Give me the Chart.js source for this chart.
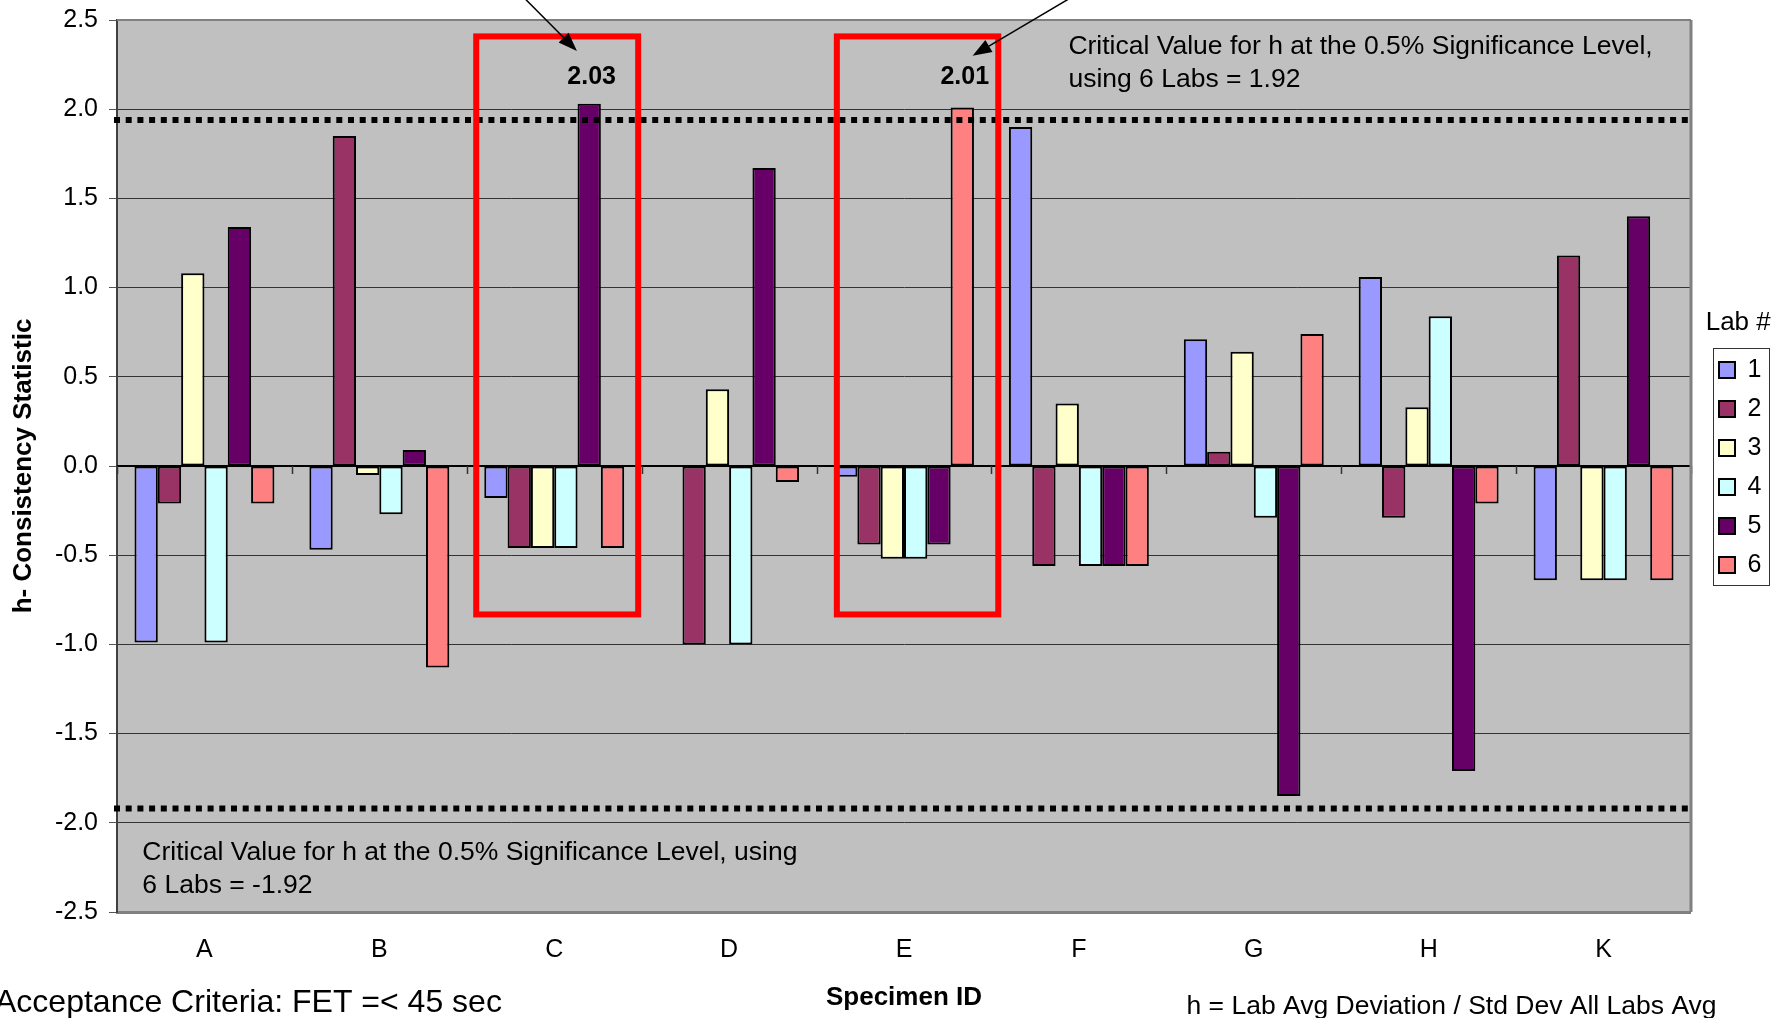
<!DOCTYPE html>
<html>
<head>
<meta charset="utf-8">
<title>h- Consistency Statistic</title>
<script src="https://cdn.jsdelivr.net/npm/chart.js@4.4.1/dist/chart.umd.min.js"></script>
<style>
  html, body { margin: 0; padding: 0; background: #fff; }
  #wrap { width: 1778px; height: 1018px; }
</style>
</head>
<body>
<div id="wrap"><canvas id="myChart" width="1778" height="1018"></canvas></div>
<script>
const specimens = ["A", "B", "C", "D", "E", "F", "G", "H", "K"];
const labNames = ["1", "2", "3", "4", "5", "6"];

const lab1 = [-0.99, -0.47, -0.18, 0, -0.06, 1.90, 0.71, 1.06, -0.64];
const lab2 = [-0.21, 1.85, -0.46, -1.00, -0.44, -0.56, 0.08, -0.29, 1.18];
const lab3 = [1.08, -0.05, -0.46, 0.43, -0.52, 0.35, 0.64, 0.33, -0.64];
const lab4 = [-0.99, -0.27, -0.46, -1.00, -0.52, -0.56, -0.29, 0.84, -0.64];
const lab5 = [1.34, 0.09, 2.03, 1.67, -0.44, -0.56, -1.85, -1.71, 1.40];
const lab6 = [-0.21, -1.13, -0.46, -0.09, 2.01, -0.56, 0.74, -0.21, -0.64];

const yTickValues = [2.5, 2.0, 1.5, 1.0, 0.5, 0.0, -0.5, -1.0, -1.5, -2.0, -2.5];

// critical h value (text) and where the dotted lines sit on the picture
const critLevel = 1.92;
const critLines = [1.94, -1.92];

const labColors = ["#9999FF", "#993366", "#FFFFCC", "#CCFFFF", "#660066", "#FF8080"];
const fontFam = '"Liberation Sans", Arial, sans-serif';

// annotation shapes, in category index / h units
const labelLevel = 2.18;
const redBoxes = [
    { x0: 1.554, x1: 2.48, y0: 2.408, y1: -0.832 },
    { x0: 3.616, x1: 4.539, y0: 2.408, y1: -0.832 },
];
const arrows = [
    { x0: 1.812, y0: 2.64, x1: 2.130, y1: 2.326 },
    { x0: 4.980, y0: 2.64, x1: 4.392, y1: 2.300 },
];
const notes = [
    { x: 4.94, y: 2.308, lines: ["Critical Value for h at the 0.5% Significance Level,", "using 6 Labs = " + critLevel.toFixed(2)] },
    { x: -0.355, y: -2.21, lines: ["Critical Value for h at the 0.5% Significance Level, using", "6 Labs = -" + critLevel.toFixed(2)] },
];

Chart.defaults.font.family = fontFam;
Chart.defaults.color = "#000";

const labSeries = [lab1, lab2, lab3, lab4, lab5, lab6];

const plotDecor = {
    id: "plotDecor",
    beforeDraw(chart) {
        const { ctx, chartArea: a } = chart;
        ctx.save();
        ctx.fillStyle = "#C0C0C0";
        ctx.fillRect(a.left, a.top, a.right - a.left, a.bottom - a.top);
        ctx.restore();
    },
    afterLayout(chart) {
        // nudge legend a bit away from the plot
        chart.legend.left += 14;
        chart.legend.right += 14;
    },
    afterDatasetsDraw(chart) {
        const { ctx, chartArea: a, scales } = chart;
        const xs = scales.x, ys = scales.y;
        ctx.save();

        // category axis at h = 0
        const y0 = ys.getPixelForValue(0);
        ctx.strokeStyle = "#000";
        ctx.lineWidth = 2;
        ctx.beginPath();
        ctx.moveTo(a.left, y0);
        ctx.lineTo(a.right, y0);
        ctx.stroke();
        ctx.strokeStyle = "#333";
        ctx.lineWidth = 1.5;
        for (let i = 0; i <= specimens.length; i++) {
            const x = Math.round(xs.getPixelForValue(i - 0.5)) + 0.5;
            ctx.beginPath();
            ctx.moveTo(x, y0);
            ctx.lineTo(x, y0 + 8);
            ctx.stroke();
        }

        // dotted critical lines
        ctx.strokeStyle = "#000";
        ctx.lineWidth = 6;
        ctx.setLineDash([6, 5.7]);
        critLines.forEach(v => {
            const y = ys.getPixelForValue(v);
            ctx.beginPath();
            ctx.moveTo(a.left - 3, y);
            ctx.lineTo(a.right + 1, y);
            ctx.stroke();
        });
        ctx.setLineDash([]);

        // plot frame (top / right)
        ctx.strokeStyle = "#808080";
        ctx.lineWidth = 2;
        ctx.beginPath();
        ctx.moveTo(a.left, a.top);
        ctx.lineTo(a.right, a.top);
        ctx.stroke();
        ctx.lineWidth = 3;
        ctx.beginPath();
        ctx.moveTo(a.right, a.top);
        ctx.lineTo(a.right, a.bottom);
        ctx.stroke();

        // red boxes
        ctx.strokeStyle = "#FF0000";
        ctx.lineWidth = 6;
        redBoxes.forEach(b => {
            const l = xs.getPixelForValue(b.x0), r = xs.getPixelForValue(b.x1);
            const t = ys.getPixelForValue(b.y0), bt = ys.getPixelForValue(b.y1);
            ctx.strokeRect(l, t, r - l, bt - t);
        });

        // arrows
        ctx.strokeStyle = "#000";
        ctx.fillStyle = "#000";
        ctx.lineWidth = 1.5;
        arrows.forEach(ar => {
            const sx = xs.getPixelForValue(ar.x0), sy = ys.getPixelForValue(ar.y0);
            const tx = xs.getPixelForValue(ar.x1), ty = ys.getPixelForValue(ar.y1);
            const ang = Math.atan2(ty - sy, tx - sx);
            const len = 19, hw = 7;
            const bx = tx - len * Math.cos(ang), by = ty - len * Math.sin(ang);
            ctx.beginPath();
            ctx.moveTo(sx, sy);
            ctx.lineTo(bx, by);
            ctx.stroke();
            ctx.beginPath();
            ctx.moveTo(tx, ty);
            ctx.lineTo(bx + hw * Math.sin(ang), by - hw * Math.cos(ang));
            ctx.lineTo(bx - hw * Math.sin(ang), by + hw * Math.cos(ang));
            ctx.closePath();
            ctx.fill();
        });

        // labels on bars above the critical value
        ctx.font = "bold 25px " + fontFam;
        ctx.textAlign = "center";
        ctx.textBaseline = "middle";
        const labelY = ys.getPixelForValue(labelLevel);
        chart.data.datasets.forEach((ds, di) => {
            const meta = chart.getDatasetMeta(di);
            ds.data.forEach((v, i) => {
                if (v > critLevel) {
                    const bar = meta.data[i];
                    ctx.fillText(v.toFixed(2), bar.x + 2.5, labelY);
                }
            });
        });

        // notes
        ctx.font = "26.5px " + fontFam;
        ctx.textAlign = "left";
        ctx.textBaseline = "alphabetic";
        notes.forEach(n => {
            const x = xs.getPixelForValue(n.x), y = ys.getPixelForValue(n.y);
            n.lines.forEach((txt, k) => ctx.fillText(txt, x, y + k * 32.5));
        });

        ctx.restore();
    },
    afterDraw(chart) {
        const { ctx } = chart;
        ctx.save();
        // legend frame
        const hb = chart.legend.legendHitBoxes;
        if (hb && hb.length) {
            const l = hb[0].left - 6;
            const t = hb[0].top - 10;
            const last = hb[hb.length - 1];
            const bt = last.top + last.height + 7;
            ctx.strokeStyle = "#333";
            ctx.lineWidth = 1;
            ctx.strokeRect(Math.round(l) + 0.5, Math.round(t) + 0.5, 56, Math.round(bt - t));
        }
        // footer texts
        ctx.fillStyle = "#000";
        ctx.textBaseline = "alphabetic";
        ctx.textAlign = "left";
        ctx.font = "32px " + fontFam;
        ctx.fillText("Acceptance Criteria: FET =< 45 sec", -5, 1012);
        ctx.font = "26.5px " + fontFam;
        ctx.fillText("h = Lab Avg Deviation / Std Dev All Labs Avg", 1186.5, 1014);
        ctx.restore();
    }
};

const ctx = document.getElementById("myChart").getContext("2d");
const myChart = new Chart(ctx, {
    type: "bar",
    data: {
        labels: specimens,
        datasets: labSeries.map((vals, k) => ({
            label: labNames[k],
            data: vals,
            backgroundColor: labColors[k],
            borderColor: "#000",
            borderWidth: 2,
            borderSkipped: false,
            categoryPercentage: 0.8,
            barPercentage: 1.0,
        })),
    },
    options: {
        responsive: false,
        animation: false,
        layout: { padding: { top: 20, right: 20.6, bottom: 0, left: 0 } },
        scales: {
            x: {
                grid: { display: false, drawTicks: false },
                border: { display: true, color: "#808080", width: 3 },
                ticks: { color: "#000", font: { size: 25 }, padding: 23 },
                title: {
                    display: true, text: "Specimen ID", color: "#000",
                    font: { size: 26, weight: "bold" }, padding: { top: 0, bottom: 5 },
                },
                afterFit: s => { s.height = 106; },
            },
            y: {
                min: -2.5,
                max: 2.5,
                afterBuildTicks: s => { s.ticks = yTickValues.map(v => ({ value: v })); },
                ticks: { color: "#000", font: { size: 25 }, padding: 11, callback: v => v.toFixed(1) },
                grid: { color: "#333", lineWidth: 1, tickLength: 8, tickColor: "#555" },
                border: { color: "#404040", width: 2 },
                title: {
                    display: true, text: "h- Consistency Statistic", color: "#000",
                    font: { size: 26, weight: "bold" }, padding: { top: 8, bottom: 0 },
                },
                afterFit: s => {
                    s.width = 117;
                    s.paddingTop = 0;
                    s.paddingBottom = 0;
                },
            },
        },
        plugins: {
            legend: {
                position: "right",
                align: "start",
                title: {
                    display: true, text: "Lab #", color: "#000",
                    font: { size: 26 }, padding: { top: 290, bottom: 2.3 },
                },
                labels: { color: "#000", font: { size: 25 }, boxWidth: 16, boxHeight: 16, padding: 14 },
            },
            tooltip: { enabled: false },
        },
    },
    plugins: [plotDecor],
});
</script>
</body>
</html>
